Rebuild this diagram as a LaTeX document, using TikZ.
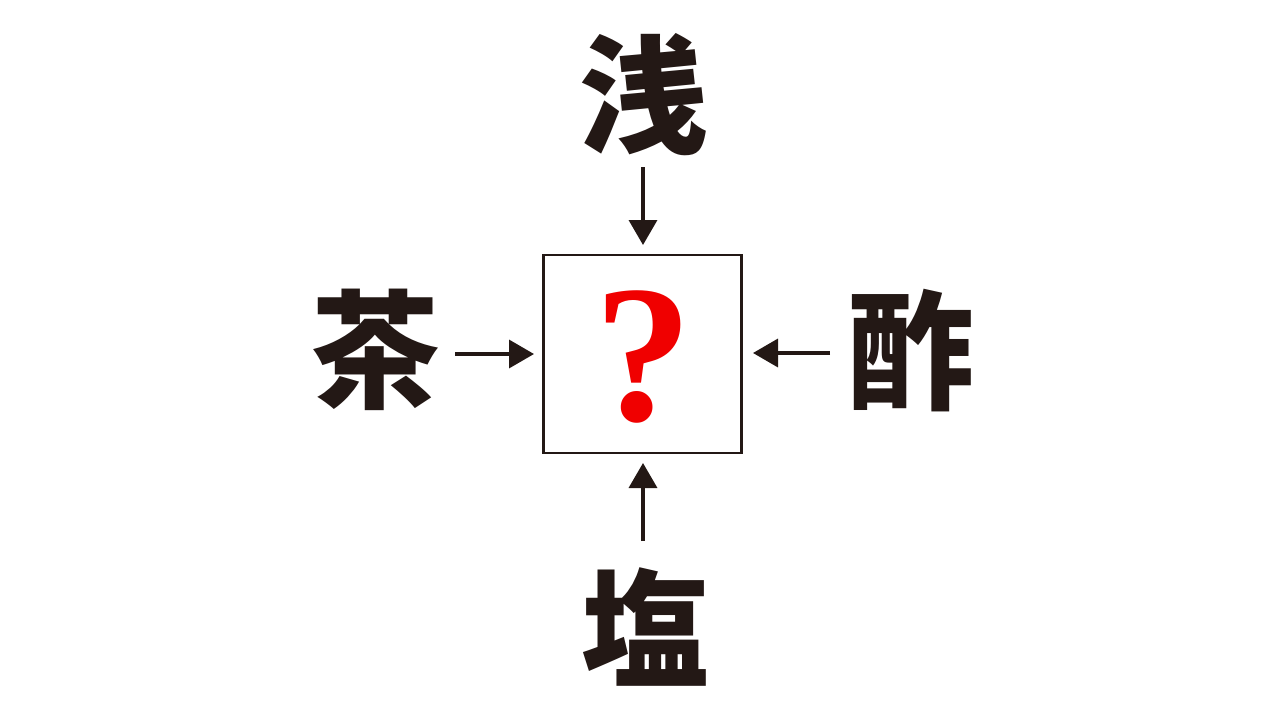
\documentclass[tikz,border=0pt]{standalone}
\usepackage{fontspec}
\setmainfont{Liberation Serif}
\newfontfamily\cjk{Noto Sans CJK JP}
\usetikzlibrary{arrows.meta}
\definecolor{ink}{RGB}{35,24,21}
\definecolor{qred}{RGB}{240,0,0}
\tikzset{
  kanji/.style={inner sep=0pt, text=ink, font=\cjk\bfseries\fontsize{128}{128}\selectfont},
  conn/.style={draw=ink, line width=3.5pt, -{Triangle[width=28pt,length=25pt]}},
}
\begin{document}
\begin{tikzpicture}[x=1pt,y=-1pt]
\useasboundingbox[fill=white] (0,0) rectangle (1280,720);
\node[draw=ink, line width=2.8pt, minimum size=198pt, inner sep=0pt] (box) at (642.5,354) {};
\node[anchor=base, inner sep=0pt, text=qred, font=\bfseries\fontsize{196}{196}\selectfont] (q) at (643,420) {?};
\node[kanji] (top) at (643,95) {浅};
\node[kanji] (left) at (375,350) {茶};
\node[kanji] (right) at (910,351) {酢};
\node[kanji] (bottom) at (645,627) {塩};
\coordinate (t1) at (643,167);
\coordinate (t2) at (643,245);
\coordinate (l1) at (455,354);
\coordinate (l2) at (534,354);
\coordinate (r1) at (830,353);
\coordinate (r2) at (753,353);
\coordinate (b1) at (643,541);
\coordinate (b2) at (643,463);
\draw[conn] (t1) -- (t2);
\draw[conn] (l1) -- (l2);
\draw[conn] (r1) -- (r2);
\draw[conn] (b1) -- (b2);
\end{tikzpicture}
\end{document}
